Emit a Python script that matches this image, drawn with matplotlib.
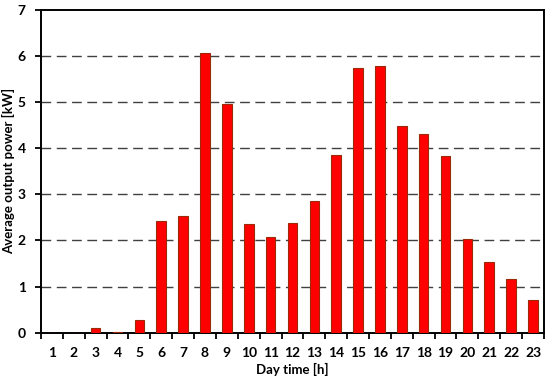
import matplotlib.pyplot as plt
import numpy as np

hours = list(range(1, 24))
power = [0.0, 0.0, 0.10, 0.02, 0.27, 2.42, 2.54, 6.06, 4.97, 2.35, 2.07, 2.38,
         2.86, 3.85, 5.73, 5.79, 4.49, 4.30, 3.84, 2.04, 1.54, 1.17, 0.72]

plt.rcParams['font.family'] = ['Lato', 'DejaVu Sans']

fig = plt.figure(figsize=(5.5, 3.82), dpi=100)
ax = fig.add_axes([0.0745, 0.129, 0.9145, 0.845])

x = np.arange(len(hours))
ax.bar(x, power, width=0.44, color='#ff0000', edgecolor='#9a2a08', linewidth=0.8, zorder=3)

ax.set_xlim(-0.5, len(hours) - 0.5)
ax.set_ylim(0, 7)
ax.set_xticks(x)
ax.set_xticklabels([str(h) for h in hours], fontsize=10, fontweight='bold')
ax.set_xticks(np.arange(-0.5, len(hours)), minor=True)
ax.tick_params(axis='x', which='major', length=0, pad=10)
ax.tick_params(axis='x', which='minor', length=4, width=1.3, direction='out')
ax.set_yticks(range(0, 8))
ax.set_yticklabels([str(v) for v in range(0, 8)], fontsize=10, fontweight='bold')
ax.tick_params(axis='y', length=4, width=1.3, direction='out', pad=7)

for v in range(1, 7):
    ax.axhline(v, color='#404040', linestyle=(0, (7, 4)), linewidth=1.0, zorder=1)

for s in ax.spines.values():
    s.set_linewidth(1.4)
    s.set_color('black')

ax.set_xlabel('Day time [h]', fontsize=9.5, fontweight='bold', labelpad=3)
ax.set_ylabel('Average output power [kW]', fontsize=9.5, fontweight='bold')
ax.yaxis.set_label_coords(-0.052, 0.5)

fig.savefig('out.png', dpi=100)
